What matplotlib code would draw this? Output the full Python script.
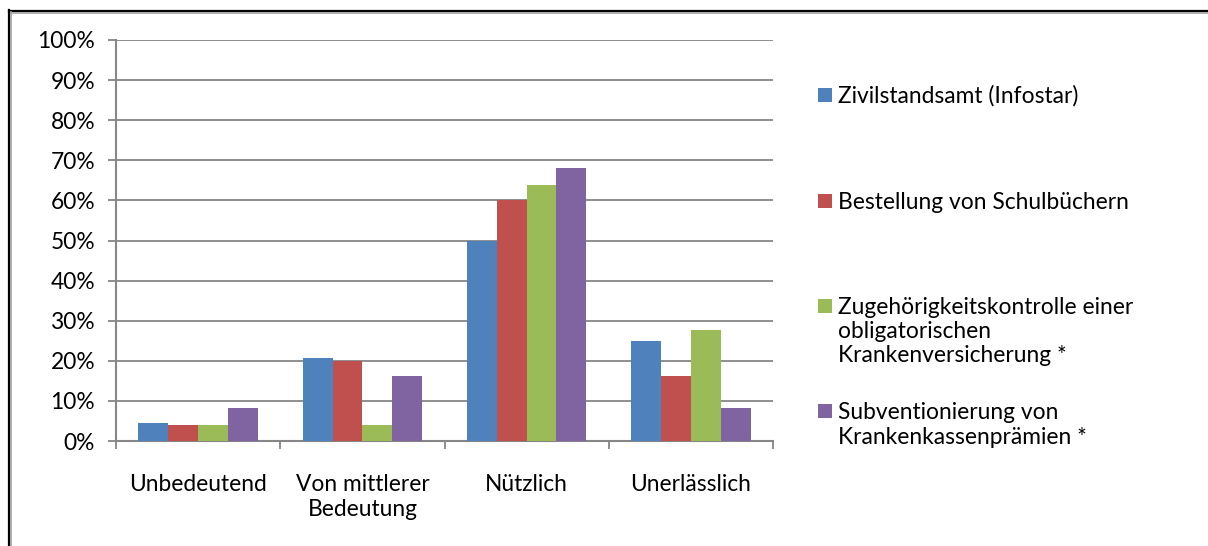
import matplotlib
matplotlib.use("Agg")
import matplotlib.pyplot as plt
from matplotlib.lines import Line2D
from matplotlib.patches import Rectangle
import numpy as np

categories = ["Unbedeutend", "Von mittlerer\nBedeutung", "Nützlich", "Unerlässlich"]
series_names = [
    "Zivilstandsamt (Infostar)",
    "Bestellung von Schulbüchern",
    "Zugehörigkeitskontrolle einer\nobligatorischen\nKrankenversicherung *",
    "Subventionierung von\nKrankenkassenprämien *",
]
zivilstand = [4.6, 20.7, 50.0, 24.9]
schulbuecher = [4.0, 20.0, 60.1, 16.2]
zugehoerigkeit = [4.0, 4.0, 63.8, 27.7]
subvention = [8.2, 16.3, 68.1, 8.3]
series_values = [zivilstand, schulbuecher, zugehoerigkeit, subvention]
colors = ["#4F81BD", "#C0504D", "#9BBB59", "#8064A2"]
y_ticks = list(range(0, 101, 10))
y_tick_labels = [f"{v}%" for v in y_ticks]

FONT = "Lato"
FS = 16.4
W, H = 1208, 546
fig = plt.figure(figsize=(W / 100, H / 100), dpi=100)
fig.patch.set_facecolor("white")

def fx(px):
    return px / W

def fy(py):
    return 1 - py / H

ax = fig.add_axes([fx(116), fy(441), fx(773) - fx(116), fy(40) - fy(441)])
grid_c = "#868686"

n = len(series_values)
bw = 1 / 5.5
x = np.arange(len(categories)) + 0.5
for i, (vals, c) in enumerate(zip(series_values, colors)):
    ax.bar(x + (i - (n - 1) / 2) * bw, vals, width=bw, color=c, zorder=3)

ax.set_xlim(0, len(categories))
ax.set_ylim(0, 100)
ax.set_yticks(y_ticks)
ax.set_yticklabels(y_tick_labels, fontfamily=FONT, fontsize=FS)
ax.yaxis.grid(True, color=grid_c, linewidth=1.3, zorder=0)
ax.set_xticks(np.arange(len(categories) + 1))
ax.set_xticklabels([])
ax.set_xticks(x, minor=True)
ax.set_xticklabels(categories, minor=True, fontfamily=FONT, fontsize=FS, linespacing=1.28)
ax.tick_params(axis="x", which="minor", length=0, pad=23.5)
ax.tick_params(axis="x", which="major", length=6, width=1.3, color=grid_c, direction="out")
ax.tick_params(axis="y", length=6, width=1.3, color=grid_c, direction="out", pad=9)
for s in ["top", "right"]:
    ax.spines[s].set_visible(False)
for s in ["left", "bottom"]:
    ax.spines[s].set_color(grid_c)
    ax.spines[s].set_linewidth(1.5)

# legend (manual layout)
sq_centers = [95, 201, 305.5, 411]
line_gap = 24.5
for name, c, yc in zip(series_names, colors, sq_centers):
    fig.patches.append(Rectangle((fx(818), fy(yc + 7)), fx(14), fy(yc - 7) - fy(yc + 7),
                                 transform=fig.transFigure, facecolor=c, edgecolor="none"))
    for k, line in enumerate(name.split("\n")):
        fig.text(fx(838), fy(yc + 8 + k * line_gap), line, fontfamily=FONT, fontsize=FS,
                 va="baseline", ha="left")

# outer frame (left and top visible)
fig.lines.append(Line2D([fx(9), fx(9)], [fy(10), 0], transform=fig.transFigure, color="black", linewidth=1.6))
fig.lines.append(Line2D([fx(9), 1], [fy(10.5), fy(10.5)], transform=fig.transFigure, color="black", linewidth=1.6))
fig.lines.append(Line2D([fx(11), fx(11)], [fy(12), 0], transform=fig.transFigure, color="#A0A0A0", linewidth=1.2))
fig.lines.append(Line2D([fx(11), 1], [fy(12.5), fy(12.5)], transform=fig.transFigure, color="#A0A0A0", linewidth=1.2))

fig.savefig("out.png", dpi=100, facecolor="white")
